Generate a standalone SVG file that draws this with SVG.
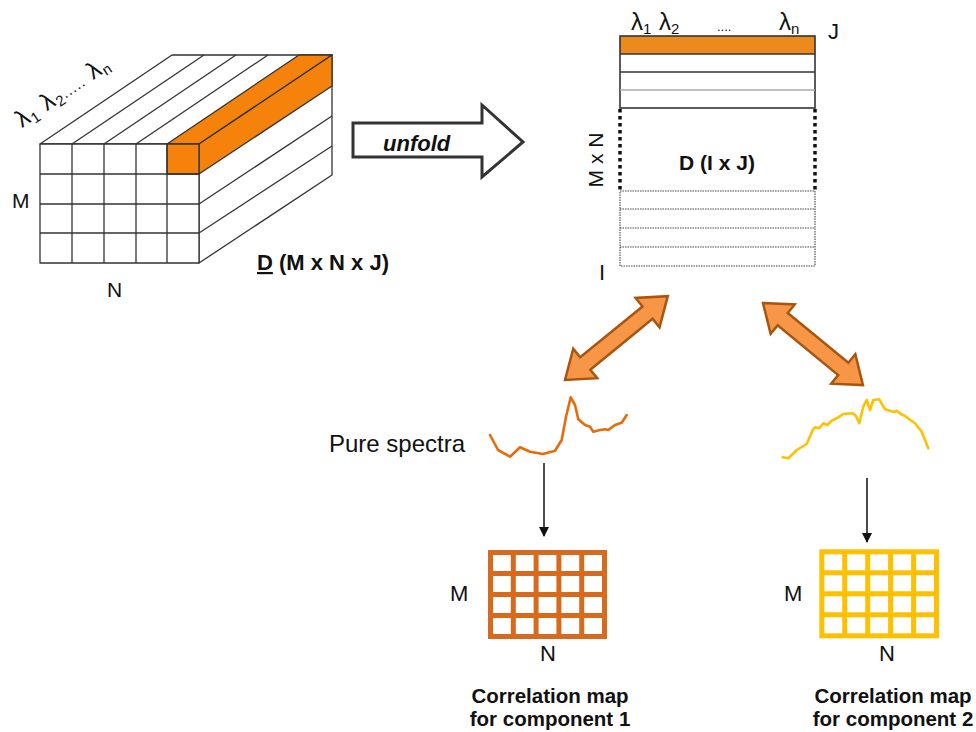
<svg xmlns="http://www.w3.org/2000/svg" width="976" height="732" viewBox="0 0 976 732">
  <defs>
    <style>
      .txt { font-family: "Liberation Sans", Arial, sans-serif; fill: #111; }
      .bold { font-weight: bold; }
      .cube { fill: #fff; stroke: #333; stroke-width: 1.3; stroke-linejoin: round; }
      .cl { stroke: #333; stroke-width: 1.3; fill: none; }
      .org { fill: #F5820A; stroke: #333; stroke-width: 1.3; stroke-linejoin: round; }
      .mline { stroke: #333; stroke-width: 1.6; fill: none; }
      .dotline { stroke: #444; stroke-width: 1.1; stroke-dasharray: 1.5 1; fill: none; }
      .dash { stroke: #111; stroke-width: 3.5; stroke-dasharray: 3.5 3.5; fill: none; }
      .dbl { fill: #F79646; stroke: #A8560F; stroke-width: 2.5; stroke-linejoin: miter; }
      .spec { fill: none; stroke-width: 2.6; stroke-linejoin: round; stroke-linecap: round; }
      .down { stroke: #111; stroke-width: 1.5; fill: none; }
    </style>
    <marker id="head" markerWidth="10" markerHeight="10" refX="9" refY="5" orient="auto" markerUnits="userSpaceOnUse">
      <path d="M0,0 L10,5 L0,10 Z" fill="#111"/>
    </marker>
    <!-- double-headed block arrow, length 132 along x -->
    <path id="dblArrow" d="M0,0 L26,-19 L26,-8 L106,-8 L106,-19 L132,0 L106,19 L106,8 L26,8 L26,19 Z"/>
  </defs>

  <!-- data cube D (M x N x J) -->
  <g id="cube">
    <polygon class="cube" points="40,144 172,55 332,55 199,144"/>
    <polygon class="cube" points="199,144 332,55 332,175 199,263"/>
    <rect class="cube" x="40" y="144" width="159" height="119"/>
    <polygon class="org" points="167,144 299,55 332,55 199,144"/>
    <polygon class="org" points="199,144 332,55 332,86 199,174"/>
    <rect class="org" x="167" y="144" width="32" height="30"/>
    <g class="cl">
      <line x1="72" y1="144" x2="204" y2="55"/>
      <line x1="104" y1="144" x2="236" y2="55"/>
      <line x1="136" y1="144" x2="268" y2="55"/>
      <line x1="199" y1="204" x2="332" y2="116"/>
      <line x1="199" y1="233" x2="332" y2="146"/>
      <line x1="72" y1="144" x2="72" y2="263"/>
      <line x1="104" y1="144" x2="104" y2="263"/>
      <line x1="136" y1="144" x2="136" y2="263"/>
      <line x1="167" y1="144" x2="167" y2="263"/>
      <line x1="40" y1="174" x2="199" y2="174"/>
      <line x1="40" y1="204" x2="199" y2="204"/>
      <line x1="40" y1="233" x2="199" y2="233"/>
    </g>
    <text class="txt" font-size="24" letter-spacing="1" transform="translate(22,128) rotate(-34)">λ<tspan font-size="15" dy="4">1</tspan><tspan dy="-4"> λ</tspan><tspan font-size="15" dy="4">2</tspan><tspan font-size="15" dy="-4">.....</tspan><tspan> λ</tspan><tspan font-size="15" dy="4">n</tspan></text>
    <text class="txt" font-size="21" x="12" y="208">M</text>
    <text class="txt" font-size="21" x="107" y="297">N</text>
    <text class="txt bold" font-size="22" x="257" y="270"><tspan text-decoration="underline">D</tspan> (M x N x J)</text>
  </g>

  <!-- unfold arrow -->
  <g id="unfold">
    <path d="M353,123 L482,123 L482,105 L523,142 L482,177 L482,157 L353,157 Z" fill="#fff" stroke="#333" stroke-width="3" stroke-linejoin="miter"/>
    <text class="txt bold" font-size="22" font-style="italic" x="383" y="151">unfold</text>
  </g>

  <!-- unfolded matrix D (I x J) -->
  <g id="matrix">
    <rect x="620" y="36" width="195" height="18" fill="#EC8A1E"/>
    <g class="mline">
      <rect x="620" y="36" width="195" height="72"/>
      <line x1="620" y1="54" x2="815" y2="54"/>
      <line x1="620" y1="72" x2="815" y2="72"/>
    </g>
    <line x1="620" y1="90" x2="815" y2="90" stroke="#aaa" stroke-width="1.4"/>
    <line class="dash" x1="620" y1="109" x2="620" y2="190"/>
    <line class="dash" x1="815" y1="109" x2="815" y2="190"/>
    <g class="dotline">
      <rect x="620" y="191" width="195" height="75"/>
      <line x1="620" y1="209" x2="815" y2="209"/>
      <line x1="620" y1="228" x2="815" y2="228"/>
      <line x1="620" y1="247" x2="815" y2="247"/>
    </g>
    <text class="txt" font-size="24" x="631" y="30">λ<tspan font-size="15" dy="4">1</tspan></text>
    <text class="txt" font-size="24" x="659" y="30">λ<tspan font-size="15" dy="4">2</tspan></text>
    <text class="txt" font-size="13" x="717" y="31">....</text>
    <text class="txt" font-size="24" x="779" y="30">λ<tspan font-size="15" dy="4">n</tspan></text>
    <text class="txt" font-size="22" x="828" y="39">J</text>
    <text class="txt" font-size="21" text-anchor="middle" transform="translate(603,160) rotate(-90)">M x N</text>
    <text class="txt bold" font-size="21" text-anchor="middle" x="717" y="170">D (I x J)</text>
    <text class="txt" font-size="22" x="599" y="280">I</text>
  </g>

  <!-- pure spectra -->
  <g id="spectra">
    <text class="txt" font-size="24" x="329" y="452">Pure spectra</text>
    <polyline class="spec" stroke="#E46C0A" points="490,435 498,450 510,456.7 520,447.3 530,451.7 543,454 555,450.7 561.7,440 566,416.7 570.7,397.3 575,405 578.3,419.3 585,425 590,426.7 593.3,431.7 600,430 605,429.3 608.3,430 615,425 621.7,422.7 626.7,415"/>
    <polyline class="spec" stroke="#FFC000" points="782.7,457.3 788.3,458.3 796.7,450 806.7,444 812.7,430 815,427.3 819.3,428.3 823.3,423.3 827.3,425 831.7,420.7 838.3,417.3 843.3,414 852.7,413.3 856,416 859.3,423.3 863.3,406.7 866.7,400 870,410 873.3,400 879.3,399.3 885,409.3 890,410.7 894,412 896.7,410.7 900.7,414 905,416 909.3,419.3 915,423.3 921.7,431.7 928.3,448.3"/>
  </g>

  <!-- correlation map 1 -->
  <g id="map1">
    <g stroke="#D86A1E" stroke-width="5" fill="none">
      <rect x="490.5" y="552.5" width="114" height="84"/>
      <line x1="513.3" y1="552.5" x2="513.3" y2="636.5"/>
      <line x1="536.1" y1="552.5" x2="536.1" y2="636.5"/>
      <line x1="558.9" y1="552.5" x2="558.9" y2="636.5"/>
      <line x1="581.7" y1="552.5" x2="581.7" y2="636.5"/>
      <line x1="490.5" y1="573.5" x2="604.5" y2="573.5"/>
      <line x1="490.5" y1="594.5" x2="604.5" y2="594.5"/>
      <line x1="490.5" y1="615.5" x2="604.5" y2="615.5"/>
    </g>
    <text class="txt" font-size="22" x="450" y="601">M</text>
    <text class="txt" font-size="22" x="540" y="661">N</text>
    <text class="txt bold" font-size="20.5" text-anchor="middle" x="550" y="703">Correlation map</text>
    <text class="txt bold" font-size="20.5" text-anchor="middle" x="550" y="726">for component 1</text>
  </g>

  <!-- correlation map 2 -->
  <g id="map2">
    <g stroke="#FFC000" stroke-width="5" fill="none">
      <rect x="821.8" y="551.8" width="114.7" height="84"/>
      <line x1="844.7" y1="551.8" x2="844.7" y2="635.8"/>
      <line x1="867.7" y1="551.8" x2="867.7" y2="635.8"/>
      <line x1="890.6" y1="551.8" x2="890.6" y2="635.8"/>
      <line x1="913.6" y1="551.8" x2="913.6" y2="635.8"/>
      <line x1="821.8" y1="572.8" x2="936.5" y2="572.8"/>
      <line x1="821.8" y1="593.8" x2="936.5" y2="593.8"/>
      <line x1="821.8" y1="614.8" x2="936.5" y2="614.8"/>
    </g>
    <text class="txt" font-size="22" x="784" y="601">M</text>
    <text class="txt" font-size="22" x="879" y="661">N</text>
    <text class="txt bold" font-size="20.5" text-anchor="middle" x="893" y="703">Correlation map</text>
    <text class="txt bold" font-size="20.5" text-anchor="middle" x="893" y="726">for component 2</text>
  </g>

  <!-- connectors -->
  <g id="connectors">
    <use href="#dblArrow" class="dbl" transform="translate(565,380) rotate(-39.2) scale(1.005,1)"/>
    <use href="#dblArrow" class="dbl" transform="translate(763,303) rotate(39.4) scale(0.98,1)"/>
    <line class="down" x1="544" y1="463" x2="544" y2="536" marker-end="url(#head)"/>
    <line class="down" x1="867" y1="478" x2="867" y2="542" marker-end="url(#head)"/>
  </g>
</svg>
